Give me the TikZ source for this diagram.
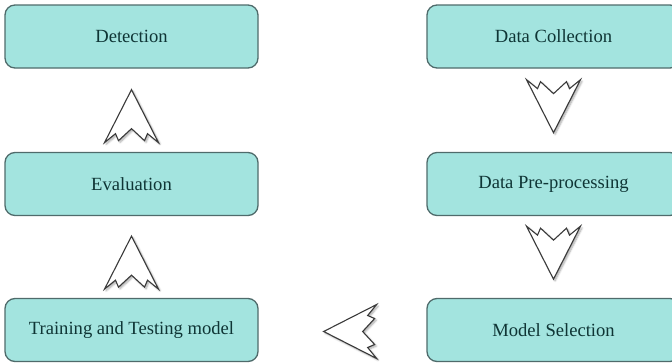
\documentclass[tikz,border=0pt]{standalone}
\usepackage{fontspec}
\setmainfont{Liberation Serif}
\usetikzlibrary{calc,shadows.blur}
\definecolor{boxfill}{HTML}{A3E4DF}
\definecolor{boxline}{HTML}{4F6B6B}
\definecolor{boxtext}{HTML}{0F3535}
\definecolor{arrline}{HTML}{3A3A3A}
\tikzset{
  stage/.style={draw=boxline, line width=1.3pt, fill=boxfill,
    rounded corners=10pt, minimum width=253pt, minimum height=63pt,
    inner sep=0pt, text=boxtext, font=\fontsize{18.6pt}{22pt}\selectfont},
  % hollow block arrow with a zig-zag tail; tip at the origin, pointing up
  notched/.pic={
    \path[draw=arrline, fill=white, line width=1.1pt, line join=miter,
      blur shadow={shadow xshift=1.6pt, shadow yshift=-1.6pt,
                   shadow blur steps=6, shadow opacity=35}]
      (0,0) -- (-27,53) -- (-16,44) -- (-13,51) -- (0,39)
      -- (13,51) -- (16,44) -- (27,53) -- cycle;
  }
}
\begin{document}
\begin{tikzpicture}[x=1pt, y=-1pt]
  \useasboundingbox (0,0) rectangle (672,364);
  \clip (0,0) rectangle (672,364);

  % stages
  \node[stage] (det)   at (131.5, 36.5) {Detection};
  \node[stage] (eval)  at (131.5, 184)  {Evaluation};
  \node[stage] (train) at (131.5, 330)  {Training and Testing model};
  \node[stage] (coll)  at (553.5, 36.5) {Data Collection};
  \node[stage] (pre)   at (553.5, 184)  {Data Pre-processing};
  \node[stage] (sel)   at (553.5, 330)  {Model Selection};

  % flow arrows
  \coordinate (a1) at ($(coll.south)+(0,64)$);
  \coordinate (a2) at ($(pre.south)+(0,63)$);
  \coordinate (a3) at ($(train.east)+(65,1.5)$);
  \coordinate (a4) at ($(eval.south)+(0,20)$);
  \coordinate (a5) at ($(det.south)+(0,21)$);

  \pic[rotate=180] at (a1) {notched};
  \pic[rotate=180] at (a2) {notched};
  \pic[rotate=90]  at (a3) {notched};
  \pic at (a4) {notched};
  \pic at (a5) {notched};
\end{tikzpicture}
\end{document}
